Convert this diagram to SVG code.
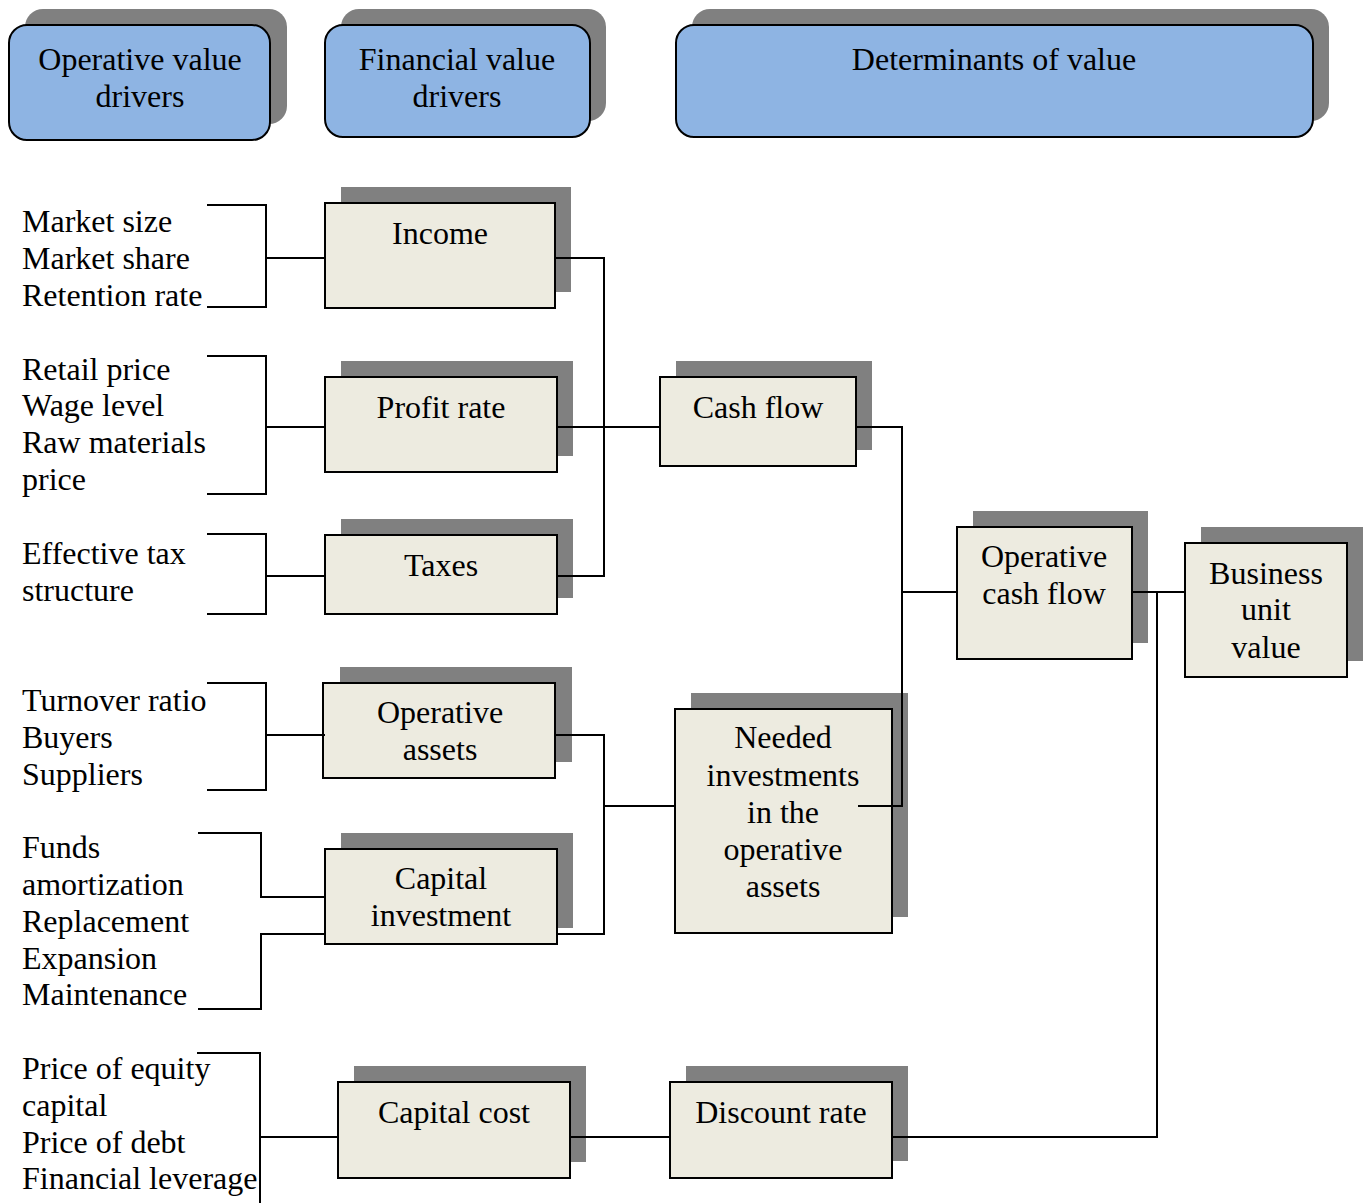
<svg xmlns="http://www.w3.org/2000/svg" width="1371" height="1203" viewBox="0 0 1371 1203">
<style>
.sh{fill:#808080}
.hd{fill:#8EB4E3;stroke:#000;stroke-width:2}
.bx{fill:#EDEBE0;stroke:#000;stroke-width:2}
text{font-family:"Liberation Serif","Times New Roman",serif;font-size:32px;fill:#000}
.c{text-anchor:middle}
.ln{fill:none;stroke:#000;stroke-width:2}
</style>
<rect width="1371" height="1203" fill="#fff"/>
<g id="hdr-operative">
<rect class="sh" x="25" y="9" width="262" height="115" rx="18"/>
<rect class="hd" x="9" y="25" width="261" height="115" rx="18"/>
<text class="c" x="140" y="70">Operative value</text>
<text class="c" x="140" y="107">drivers</text>
</g>
<g id="hdr-financial">
<rect class="sh" x="341" y="9" width="265" height="112" rx="18"/>
<rect class="hd" x="325" y="25" width="265" height="112" rx="18"/>
<text class="c" x="457" y="70">Financial value</text>
<text class="c" x="457" y="107">drivers</text>
</g>
<g id="hdr-determinants">
<rect class="sh" x="692" y="9" width="637" height="112" rx="18"/>
<rect class="hd" x="676" y="25" width="637" height="112" rx="18"/>
<text class="c" x="994" y="70">Determinants of value</text>
</g>
<g id="drivers-text">
<text x="22" y="232">Market size</text>
<text x="22" y="269">Market share</text>
<text x="22" y="306">Retention rate</text>
<text x="22" y="380">Retail price</text>
<text x="22" y="416">Wage level</text>
<text x="22" y="453">Raw materials</text>
<text x="22" y="490">price</text>
<text x="22" y="564">Effective tax</text>
<text x="22" y="601">structure</text>
<text x="22" y="711">Turnover ratio</text>
<text x="22" y="748">Buyers</text>
<text x="22" y="785">Suppliers</text>
<text x="22" y="858">Funds</text>
<text x="22" y="895">amortization</text>
<text x="22" y="932">Replacement</text>
<text x="22" y="969">Expansion</text>
<text x="22" y="1005">Maintenance</text>
<text x="22" y="1079">Price of equity</text>
<text x="22" y="1116">capital</text>
<text x="22" y="1153">Price of debt</text>
<text x="22" y="1189">Financial leverage</text>
</g>
<g id="income">
<rect class="sh" x="341" y="187" width="230" height="105"/>
<rect class="bx" x="325" y="203" width="230" height="105"/>
<text class="c" x="440" y="244">Income</text>
</g>
<g id="profit-rate">
<rect class="sh" x="341" y="361" width="232" height="95"/>
<rect class="bx" x="325" y="377" width="232" height="95"/>
<text class="c" x="441" y="418">Profit rate</text>
</g>
<g id="taxes">
<rect class="sh" x="341" y="519" width="232" height="79"/>
<rect class="bx" x="325" y="535" width="232" height="79"/>
<text class="c" x="441" y="576">Taxes</text>
</g>
<g id="operative-assets">
<rect class="sh" x="340" y="667" width="232" height="95"/>
<rect class="bx" x="323" y="683" width="232" height="95"/>
<text class="c" x="440" y="723">Operative</text>
<text class="c" x="440" y="760">assets</text>
</g>
<g id="capital-investment">
<rect class="sh" x="341" y="833" width="232" height="95"/>
<rect class="bx" x="325" y="849" width="232" height="95"/>
<text class="c" x="441" y="889">Capital</text>
<text class="c" x="441" y="926">investment</text>
</g>
<g id="cash-flow">
<rect class="sh" x="676" y="361" width="196" height="89"/>
<rect class="bx" x="660" y="377" width="196" height="89"/>
<text class="c" x="758" y="418">Cash flow</text>
</g>
<g id="needed-investments">
<rect class="sh" x="691" y="693" width="217" height="224"/>
<rect class="bx" x="675" y="709" width="217" height="224"/>
<text class="c" x="783" y="748">Needed</text>
<text class="c" x="783" y="786">investments</text>
<text class="c" x="783" y="823">in the</text>
<text class="c" x="783" y="860">operative</text>
<text class="c" x="783" y="897">assets</text>
</g>
<g id="operative-cash-flow">
<rect class="sh" x="973" y="511" width="175" height="132"/>
<rect class="bx" x="957" y="527" width="175" height="132"/>
<text class="c" x="1044" y="567">Operative</text>
<text class="c" x="1044" y="604">cash flow</text>
</g>
<g id="business-unit-value">
<rect class="sh" x="1201" y="527" width="162" height="134"/>
<rect class="bx" x="1185" y="543" width="162" height="134"/>
<text class="c" x="1266" y="584">Business</text>
<text class="c" x="1266" y="620">unit</text>
<text class="c" x="1266" y="658">value</text>
</g>
<g id="capital-cost">
<rect class="sh" x="354" y="1066" width="232" height="96"/>
<rect class="bx" x="338" y="1082" width="232" height="96"/>
<text class="c" x="454" y="1123">Capital cost</text>
</g>
<g id="discount-rate">
<rect class="sh" x="686" y="1066" width="222" height="95"/>
<rect class="bx" x="670" y="1082" width="222" height="96"/>
<text class="c" x="781" y="1123">Discount rate</text>
</g>
<g id="connectors" class="ln">
<path class="ln" d="M207 205H266V307H207M266 258H325"/>
<path class="ln" d="M207 356H266V494H207M266 427H325"/>
<path class="ln" d="M207 534H266V614H207M266 576H325"/>
<path class="ln" d="M207 683H266V790H207M266 735H325"/>
<path class="ln" d="M198 833H261V897H325M325 934H261V1009H198"/>
<path class="ln" d="M197 1053H260V1203M260 1137H338"/>
<path class="ln" d="M555 258H604V576H557M557 427H660"/>
<path class="ln" d="M555 735H604V934H557M604 806H675"/>
<path class="ln" d="M856 427H902V806H858M902 592H957"/>
<path class="ln" d="M1132 592H1185M1157 592V1137H892"/>
<path class="ln" d="M570 1137H670"/>
</g>
</svg>
